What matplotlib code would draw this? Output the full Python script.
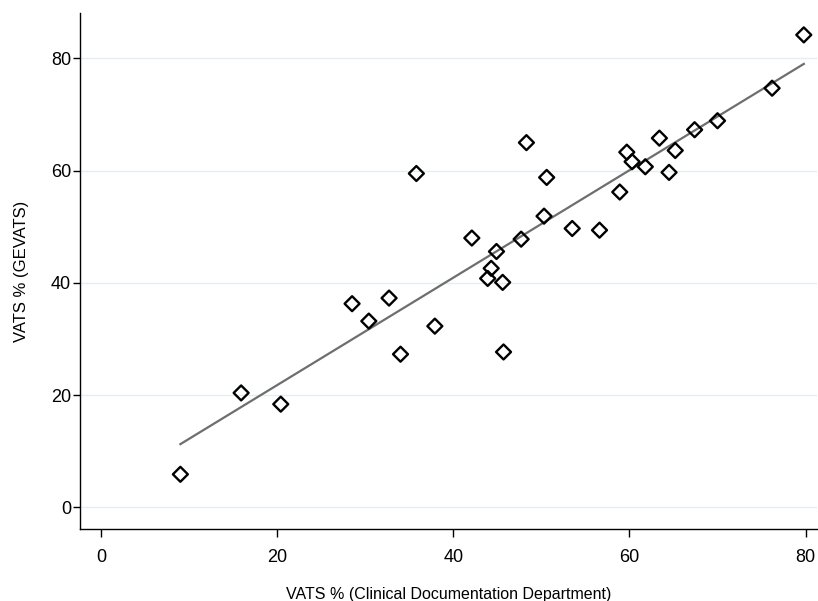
import numpy as np
import matplotlib
matplotlib.use('Agg')
import matplotlib.pyplot as plt

# VATS % por hospital: documentação clínica (x) vs GEVATS (y)
vats_doc = [9.0, 15.9, 20.4, 28.5, 30.4, 32.7, 34.0, 35.8, 37.9, 42.1,
            43.9, 44.3, 44.9, 45.6, 45.7, 47.7, 48.3, 50.3, 50.6, 53.5,
            56.6, 58.9, 59.7, 60.3, 61.8, 63.4, 64.5, 65.2, 67.4, 70.0,
            76.2, 79.8]
vats_gevats = [5.9, 20.4, 18.4, 36.3, 33.2, 37.3, 27.3, 59.5, 32.3, 48.0,
               40.8, 42.6, 45.6, 40.1, 27.7, 47.8, 65.0, 51.9, 58.8, 49.7,
               49.4, 56.2, 63.3, 61.6, 60.7, 65.8, 59.7, 63.6, 67.3, 68.9,
               74.7, 84.2]
x_ticks = [0, 20, 40, 60, 80]
y_ticks = [0, 20, 40, 60, 80]

plt.rcParams['font.family'] = ['Liberation Sans', 'DejaVu Sans']

fig = plt.figure(figsize=(8.18, 6.01), dpi=100)
ax = fig.add_axes([80 / 818, (601 - 529.3) / 601, 737 / 818, (529.3 - 13) / 601])

x = np.array(vats_doc)
y = np.array(vats_gevats)

# reta de regressão linear
coef = np.polyfit(x, y, 1)
xl = np.array([x.min(), x.max()])
ax.plot(xl, np.polyval(coef, xl), color='#6e6e6e', linewidth=1.6, zorder=2)

ax.scatter(x, y, marker='D', s=58, facecolors='none', edgecolors='black',
           linewidths=1.7, zorder=3)

ax.set_xlim(-2.4, 81.3)
ax.set_ylim(-3.9, 88.1)
ax.set_xticks(x_ticks)
ax.set_yticks(y_ticks)
ax.yaxis.grid(True, color='#e3edf2', linewidth=1.0)
ax.set_axisbelow(True)

for s in ['top', 'right']:
    ax.spines[s].set_visible(False)
ax.spines['left'].set_linewidth(1.0)
ax.spines['bottom'].set_linewidth(1.0)

ax.tick_params(axis='x', length=6, width=1.0, pad=8, labelsize=13)
ax.tick_params(axis='y', length=5, width=1.0, pad=1.5, labelsize=13)

ax.set_xlabel('VATS % (Clinical Documentation Department)', fontsize=11.5, labelpad=15)
ax.set_ylabel('VATS % (GEVATS)', fontsize=12, labelpad=16)

fig.savefig('out.png', dpi=100)
